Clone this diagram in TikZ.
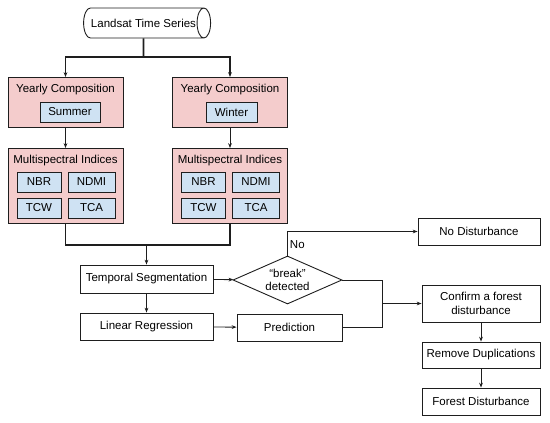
\documentclass[tikz,border=0pt]{standalone}
\usepackage{fontspec}
\setmainfont{Liberation Sans}
\usepackage{xcolor}
\definecolor{rose}{HTML}{F4CCCC}
\definecolor{sky}{HTML}{CFE2F3}
\definecolor{ink}{HTML}{1E1E1E}
\usetikzlibrary{arrows.meta,positioning,shapes.geometric}
\tikzset{
  >={Stealth[length=1.7mm,width=1.3mm]},
  stepbox/.style={draw=ink,fill=white,line width=0.9pt,
                  font=\fontsize{11.5}{14}\selectfont,align=center,
                  inner sep=1pt},
  group/.style  ={draw=ink,fill=rose,line width=0.9pt,inner sep=0pt},
  idx/.style    ={draw=ink,fill=sky,line width=0.9pt,inner sep=0pt,
                  font=\fontsize{11.5}{14}\selectfont,minimum height=20},
  ttl/.style    ={font=\fontsize{11.5}{14}\selectfont,inner sep=0pt},
  trunk/.style  ={draw=ink,line width=1.8pt},
  flow/.style   ={->,draw=ink,line width=0.9pt},
  link/.style   ={draw=ink,line width=0.9pt},
}

\begin{document}
\begin{tikzpicture}[x=1pt,y=-1pt]
\useasboundingbox (0,0) rectangle (550,423);
% source
\node[cylinder,draw=ink,fill=white,line width=0.9pt,aspect=1.6,
      minimum width=30,minimum height=127,inner sep=0pt,
      font=\fontsize{11.5}{14}\selectfont] (lts) at (143.5,23) {Landsat Time Series};
% two seasonal branches
\foreach \s/\dx/\season/\sx/\sw in {L/0/Summer/70/60,R/164.5/Winter/231.5/51}{
  \node[group,minimum width=115,minimum height=50] (yc\s) at (65.5+\dx,102.5) {};
  \node[ttl] (yct\s) at (65.5+\dx,90) {Yearly Composition};
  \node[idx,minimum width=\sw] (sea\s) at (\sx,112) {\season};
  \node[group,minimum width=115,minimum height=75] (ms\s) at (65.5+\dx,186) {};
  \node[ttl] (mst\s) at (65.5+\dx,161) {Multispectral Indices};
  \node[idx,minimum width=44] (nbr\s)  at (39+\dx,182)   {NBR};
  \node[idx,minimum width=47] (ndmi\s) at (91.5+\dx,182) {NDMI};
  \node[idx,minimum width=44] (tcw\s)  at (39+\dx,208)   {TCW};
  \node[idx,minimum width=47] (tca\s)  at (91.5+\dx,208) {TCA};
  \draw[flow] (yc\s) -- (ms\s);
}
% processing chain
\node[stepbox,minimum width=133,minimum height=28] (ts) at (146.5,279) {Temporal Segmentation};
\node[stepbox,minimum width=133,minimum height=27] (lr) at (146.5,326.5) {Linear Regression};
\node[diamond,draw=ink,fill=white,line width=0.9pt,aspect=2.27,
      minimum width=109,minimum height=48,inner sep=0pt,align=center,
      font=\fontsize{11.5}{13}\selectfont] (brk) at (287.5,280) {“break”\\detected};
\node[stepbox,minimum width=105,minimum height=27] (pred) at (289.5,327.5) {Prediction};
\node[stepbox,minimum width=122,minimum height=27] (nd) at (479,231.5) {No Disturbance};
\node[stepbox,minimum width=118,minimum height=37] (cf) at (481,303.5) {Confirm a forest\\disturbance};
\node[stepbox,minimum width=118,minimum height=26] (rd) at (481,355) {Remove Duplications};
\node[stepbox,minimum width=118,minimum height=27] (fd) at (481,401.5) {Forest Disturbance};
% split and merge
\coordinate (split) at (143.5,57);
\coordinate (merge) at (146.5,245);
\coordinate (join) at (382,303.5);
\draw[trunk] (lts) -- (split);
\draw[trunk,->] (split) -| (ycL);
\draw[trunk,->] (split) -| (ycR);
\draw[trunk] (msL) |- (merge) -| (msR);
\draw[flow] (merge) -- (ts);
% connectors
\draw[flow] (ts) -- (lr);
\draw[flow] (ts) -- (brk);
\draw[flow] (lr) -- (pred);
\draw[flow] (brk.north) |- node[pos=0.22,right,ttl,xshift=2pt]{No} (nd);
\draw[link] (brk.east) -| (join);
\draw[link] (pred) -| (join);
\draw[flow] (join) -- (cf);
\draw[flow] (cf) -- (rd);
\draw[flow] (rd) -- (fd);
\end{tikzpicture}
\end{document}
